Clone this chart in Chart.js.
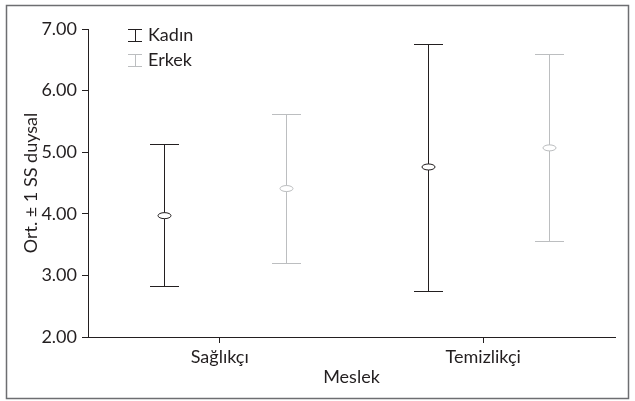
<!DOCTYPE html>
<html><head><meta charset="utf-8">
<script src="https://cdn.jsdelivr.net/npm/chart.js@4"></script>
<style>html,body{margin:0;padding:0;background:#fff}#wrap{width:635px;height:401px;position:relative}</style>
</head><body><div id="wrap"><canvas id="c" width="635" height="401"></canvas></div>
<script>
const categories = ['Sağlıkçı', 'Temizlikçi'];
const seriesNames = ['Kadın', 'Erkek'];
const kadinMean = [3.97, 4.76];
const kadinLower = [2.82, 2.75];
const kadinUpper = [5.13, 6.76];
const erkekMean = [4.41, 5.07];
const erkekLower = [3.20, 3.56];
const erkekUpper = [5.62, 6.59];
const yTicks = [2, 3, 4, 5, 6, 7];

const INK = '#231f20';
const FONT = 'Lato';

const errorBarPlugin = {
  id: 'errorBars',
  beforeDraw(chart) {
    const ctx = chart.ctx;
    ctx.save();
    ctx.fillStyle = '#fff';
    ctx.fillRect(0, 0, chart.width, chart.height);
    ctx.strokeStyle = '#6d6e71';
    ctx.lineWidth = 1.5;
    ctx.strokeRect(6.5, 5.5, 622, 393);
    ctx.restore();
  },
  afterDatasetsDraw(chart) {
    const ctx = chart.ctx;
    const xs = chart.scales.x, ys = chart.scales.y;
    const catW = (xs.right - xs.left) / categories.length;
    chart.data.datasets.forEach(ds => {
      ds.data.forEach((m, i) => {
        const cx = Math.round(xs.getPixelForValue(i) + ds.dodge * catW) + 0.5;
        const yT = Math.round(ys.getPixelForValue(ds.upper[i])) + 0.5;
        const yB = Math.round(ys.getPixelForValue(ds.lower[i])) + 0.5;
        const yM = ys.getPixelForValue(m);
        ctx.save();
        ctx.strokeStyle = ds.barColor;
        ctx.lineWidth = 1;
        ctx.beginPath();
        ctx.moveTo(cx, yT); ctx.lineTo(cx, yB);
        ctx.moveTo(cx - 14.5, yT); ctx.lineTo(cx + 14.5, yT);
        ctx.moveTo(cx - 14.5, yB); ctx.lineTo(cx + 14.5, yB);
        ctx.stroke();
        ctx.beginPath();
        ctx.ellipse(cx, yM, 6.5, 3, 0, 0, Math.PI * 2);
        ctx.fillStyle = '#fff';
        ctx.fill();
        ctx.stroke();
        ctx.restore();
      });
    });
    // legend
    const lx = chart.chartArea.left + 40;
    chart.data.datasets.forEach((ds, k) => {
      const cy = 35.5 + k * 25;
      ctx.save();
      ctx.strokeStyle = ds.barColor;
      ctx.lineWidth = 1;
      ctx.beginPath();
      ctx.moveTo(lx, cy - 6); ctx.lineTo(lx + 14, cy - 6);
      ctx.moveTo(lx, cy + 6); ctx.lineTo(lx + 14, cy + 6);
      ctx.moveTo(lx + 7.5, cy - 6); ctx.lineTo(lx + 7.5, cy + 6);
      ctx.stroke();
      ctx.fillStyle = INK;
      ctx.font = '18px ' + FONT;
      ctx.textBaseline = 'middle';
      ctx.textAlign = 'left';
      ctx.fillText(ds.label, lx + 20, cy);
      ctx.restore();
    });
  }
};

new Chart(document.getElementById('c'), {
  type: 'line',
  data: {
    labels: categories,
    datasets: [
      { label: seriesNames[0], data: kadinMean, lower: kadinLower, upper: kadinUpper,
        showLine: false, pointRadius: 0, barColor: '#231f20', dodge: -0.21 },
      { label: seriesNames[1], data: erkekMean, lower: erkekLower, upper: erkekUpper,
        showLine: false, pointRadius: 0, barColor: '#bcbec0', dodge: 0.25 }
    ]
  },
  options: {
    responsive: false,
    animation: false,
    events: [],
    layout: { padding: { left: 16, top: 29, right: 20, bottom: 11 } },
    plugins: { legend: { display: false }, tooltip: { enabled: false } },
    scales: {
      x: {
        type: 'category',
        offset: true,
        grid: { drawOnChartArea: false, drawTicks: true, tickLength: 6, color: INK, offset: false },
        border: { display: true, color: INK, width: 1 },
        ticks: { color: INK, padding: 3, font: { family: FONT, size: 18 }, maxRotation: 0 },
        title: { display: true, text: 'Meslek', color: INK, font: { family: FONT, size: 18 }, padding: { top: 0, bottom: 2 } },
        afterFit(s) { s.height = 53; }
      },
      y: {
        min: yTicks[0], max: yTicks[yTicks.length - 1],
        afterBuildTicks(s) { s.ticks = yTicks.map(v => ({ value: v })); },
        grid: { drawOnChartArea: false, drawTicks: true, tickLength: 6, color: INK },
        border: { display: true, color: INK, width: 1 },
        ticks: { color: INK, padding: 5, font: { family: FONT, size: 18 }, callback: v => Number(v).toFixed(2) },
        title: { display: true, text: 'Ort. ± 1 SS duysal', color: INK, font: { family: FONT, size: 18 }, padding: { top: 4, bottom: 0 } },
        afterFit(s) { s.width = 72; }
      }
    }
  },
  plugins: [errorBarPlugin]
});
</script>
</body></html>
